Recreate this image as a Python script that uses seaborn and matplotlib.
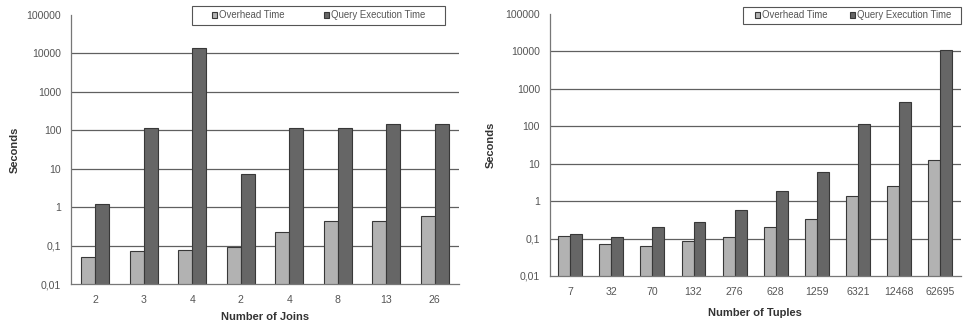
import numpy as np
import pandas as pd
import matplotlib
matplotlib.use("Agg")
import matplotlib.pyplot as plt
import seaborn as sns
from matplotlib.patches import Rectangle
from matplotlib.ticker import FixedLocator, FixedFormatter, NullLocator

############################################################
# DATA
############################################################

join_labels = ["2", "3", "4", "2", "4", "8", "13", "26"]
join_overhead = [0.051, 0.073, 0.076, 0.092, 0.22, 0.43, 0.43, 0.60]
join_query = [1.2, 112, 14000, 7.4, 112, 112, 149, 149]

tuple_labels = ["7", "32", "70", "132", "276", "628", "1259", "6321", "12468", "62695"]
tuple_overhead = [0.115, 0.070, 0.062, 0.088, 0.108, 0.20, 0.33, 1.36, 2.6, 12.8]
tuple_query = [0.133, 0.109, 0.20, 0.27, 0.58, 1.85, 5.9, 113, 435, 10900]

series_names = ["Overhead Time", "Query Execution Time"]
y_ticks = [0.01, 0.1, 1, 10, 100, 1000, 10000, 100000]
y_tick_labels = ["0,01", "0,1", "1", "10", "100", "1000", "10000", "100000"]

############################################################
# STYLE
############################################################

sns.set_theme(style="white")
plt.rcParams["font.family"] = ["Liberation Sans", "DejaVu Sans"]

palette = {"Overhead Time": "#b2b2b2", "Query Execution Time": "#666666"}
text_gray = "#555555"

W, H = 966, 325


def long_frame(labels, overhead, query):
    pos = list(range(len(labels)))
    df = pd.DataFrame({
        "pos": pos * 2,
        "value": list(overhead) + list(query),
        "series": [series_names[0]] * len(labels) + [series_names[1]] * len(labels),
    })
    return df


def draw_panel(ax, labels, overhead, query, xlabel, xlabelpad, ylabelpad,
               legend_xy, colspace, frame_px):
    df = long_frame(labels, overhead, query)
    sns.barplot(
        data=df, x="pos", y="value", hue="series",
        hue_order=series_names, palette=palette,
        width=0.58, gap=0, edgecolor="#383838", linewidth=0.8,
        saturation=1, ax=ax, legend=True
    )
    ax.set_yscale("log")
    ax.set_ylim(0.01, 100000)
    ax.yaxis.set_major_locator(FixedLocator(y_ticks))
    ax.yaxis.set_major_formatter(FixedFormatter(y_tick_labels))
    ax.yaxis.set_minor_locator(NullLocator())

    n = len(labels)
    ax.set_xlim(-0.5, n - 0.5)
    ax.set_xticks(range(n))
    ax.set_xticklabels(labels)
    ax.set_xticks(np.arange(-0.5, n, 1.0), minor=True)
    ax.tick_params(axis="x", which="major", length=0, pad=8,
                   labelsize=7.6, labelcolor=text_gray)
    ax.tick_params(axis="x", which="minor", length=3, color="#777777",
                   direction="out", width=0.8)
    ax.tick_params(axis="y", which="major", length=3, color="#777777",
                   direction="out", width=0.8, labelsize=7.6,
                   labelcolor=text_gray, pad=4)

    for y in y_ticks[1:-1]:
        ax.axhline(y, color="#606060", linewidth=0.9, zorder=0)

    for side in ["top", "right"]:
        ax.spines[side].set_visible(False)
    for side in ["left", "bottom"]:
        ax.spines[side].set_color("#777777")
        ax.spines[side].set_linewidth(0.9)

    ax.set_xlabel(xlabel, fontsize=8, fontweight="bold", color="#333333",
                  labelpad=xlabelpad)
    ax.set_ylabel("Seconds", fontsize=8, fontweight="bold", color="#333333",
                  labelpad=ylabelpad)

    handles, lbls = ax.get_legend_handles_labels()
    ax.legend(
        handles, lbls, ncol=2, loc="center left",
        bbox_to_anchor=(legend_xy[0] / W, 1 - legend_xy[1] / H),
        bbox_transform=fig.transFigure, fontsize=6.9,
        frameon=False, handlelength=0.55, handleheight=0.55,
        handletextpad=0.2, columnspacing=colspace, borderpad=0,
        borderaxespad=0, labelcolor=text_gray
    )

    x0, y0, x1, y1 = frame_px
    fig.patches.append(Rectangle(
        (x0 / W, 1 - y1 / H), (x1 - x0) / W, (y1 - y0) / H,
        transform=fig.transFigure, fill=False,
        edgecolor="#555555", linewidth=0.8
    ))


############################################################
# FIGURE
############################################################

fig = plt.figure(figsize=(9.66, 3.25), dpi=100)

ax_left = fig.add_axes([0.0735, 0.126, 0.4017, 0.828])
ax_right = fig.add_axes([0.569, 0.151, 0.4255, 0.806])

draw_panel(ax_left, join_labels, join_overhead, join_query,
           "Number of Joins", 5, 5, (212, 15.5), 4.1, (192, 6, 445, 25))
draw_panel(ax_right, tuple_labels, tuple_overhead, tuple_query,
           "Number of Tuples", 8, 7, (755, 15.5), 2.3, (743, 7, 961, 24))

fig.savefig("out.png", dpi=100)
